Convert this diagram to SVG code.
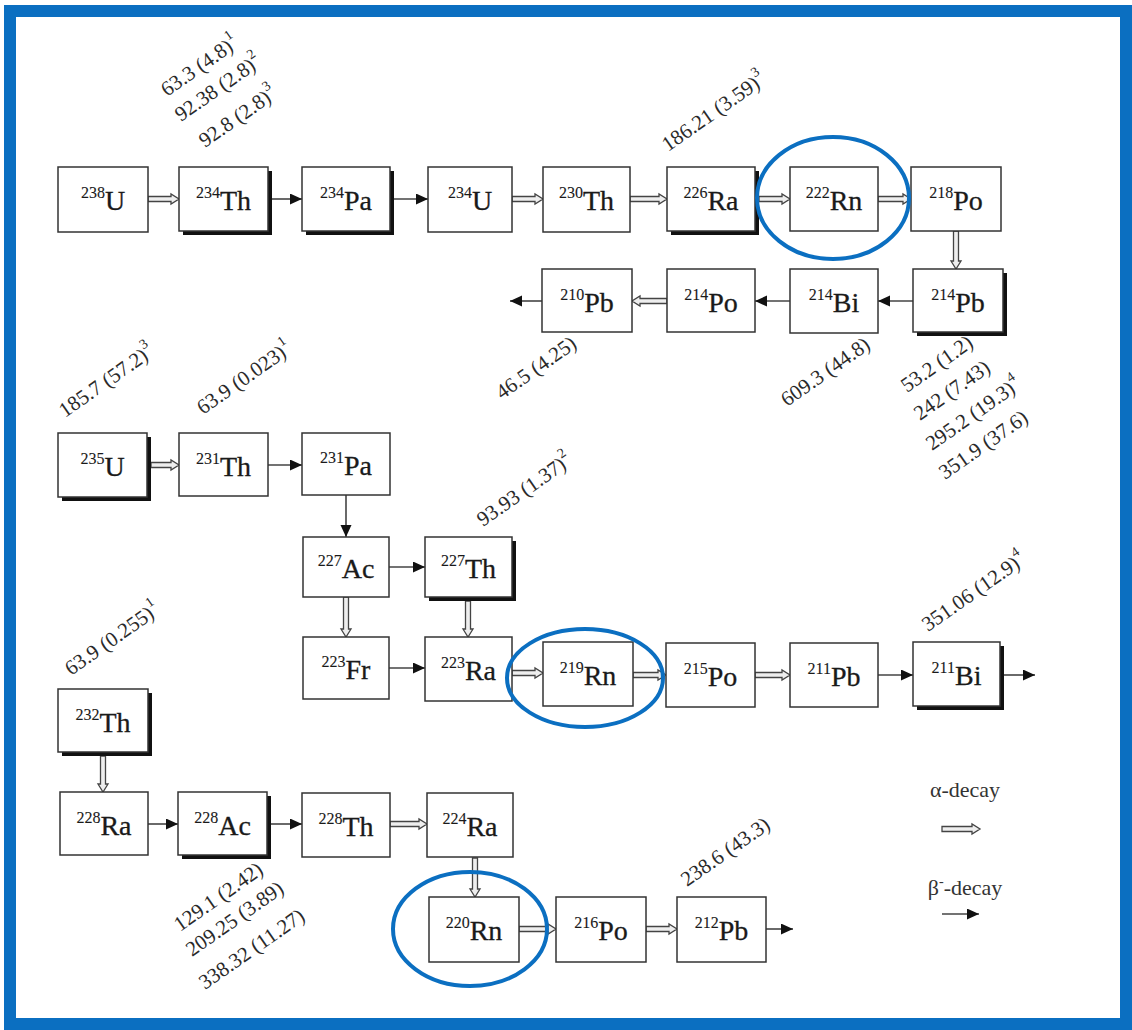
<svg xmlns="http://www.w3.org/2000/svg" width="1132" height="1030" viewBox="0 0 1132 1030">
<defs>
<style>
.box{fill:#fff;stroke:#333;stroke-width:1.5}
.sh{fill:#111}
.nt{font-family:"Liberation Serif",serif;font-size:28px;fill:#1a1a1a;stroke:#1a1a1a;stroke-width:0.3;text-anchor:middle}
.ns{font-size:16px;stroke-width:0.1}
.al{fill:#eee;stroke:#444;stroke-width:1.3}
.be{stroke:#444;stroke-width:1.6;fill:none;marker-end:url(#bh)}
.lbl{font-family:"Liberation Serif",serif;font-size:21px;fill:#2a2a2a}
.fn{font-size:14px}
.ring{fill:none;stroke:#0B6FC1;stroke-width:4}
.leg{font-family:"Liberation Serif",serif;font-size:22px;fill:#333;text-anchor:middle}
</style>
<marker id="bh" markerUnits="userSpaceOnUse" markerWidth="13" markerHeight="12" refX="12" refY="5.5" orient="auto">
<path d="M0,0 L12,5.5 L0,11 Z" fill="#111"/>
</marker>
</defs>
<rect width="1132" height="1030" fill="#fff"/>
<rect x="10" y="11" width="1116" height="1013" fill="none" stroke="#0B6FC1" stroke-width="12"/>

<g id="connectors">
<polygon class="al" points="148,196.5 171,196.5 171,194 179,199 171,204 171,201.5 148,201.5"/>
<polygon class="al" points="512,196.5 535,196.5 535,194 543,199 535,204 535,201.5 512,201.5"/>
<polygon class="al" points="630,196.5 659,196.5 659,194 667,199 659,204 659,201.5 630,201.5"/>
<polygon class="al" points="759,196.5 782,196.5 782,194 790,199 782,204 782,201.5 759,201.5"/>
<polygon class="al" points="878,196.5 903,196.5 903,194 911,199 903,204 903,201.5 878,201.5"/>
<polygon class="al" points="953.5,231 953.5,261 951,261 956,269 961,261 958.5,261 958.5,231"/>
<polygon class="al" points="667,298.5 640,298.5 640,296 632,301 640,306 640,303.5 667,303.5"/>
<polygon class="al" points="151,462.5 171,462.5 171,460 179,465 171,470 171,467.5 151,467.5"/>
<polygon class="al" points="343.5,597 343.5,629 341,629 346,637 351,629 348.5,629 348.5,597"/>
<polygon class="al" points="465.5,601 465.5,629 463,629 468,637 473,629 470.5,629 470.5,601"/>
<polygon class="al" points="512,670.5 535,670.5 535,668 543,673 535,678 535,675.5 512,675.5"/>
<polygon class="al" points="633,672.5 658,672.5 658,670 666,675 658,680 658,677.5 633,677.5"/>
<polygon class="al" points="755,672.5 782,672.5 782,670 790,675 782,680 782,677.5 755,677.5"/>
<polygon class="al" points="100.5,756 100.5,784 98,784 103,792 108,784 105.5,784 105.5,756"/>
<polygon class="al" points="390,821.5 419,821.5 419,819 427,824 419,829 419,826.5 390,826.5"/>
<polygon class="al" points="472.5,858 472.5,889 470,889 475,897 480,889 477.5,889 477.5,858"/>
<polygon class="al" points="519,926.5 548,926.5 548,924 556,929 548,934 548,931.5 519,931.5"/>
<polygon class="al" points="646,926.5 669,926.5 669,924 677,929 669,934 669,931.5 646,931.5"/>
<line class="be" x1="272" y1="199" x2="302" y2="199"/>
<line class="be" x1="394" y1="199" x2="428" y2="199"/>
<line class="be" x1="913" y1="301" x2="878" y2="301"/>
<line class="be" x1="790" y1="301" x2="755" y2="301"/>
<line class="be" x1="542" y1="301" x2="510" y2="301"/>
<line class="be" x1="268" y1="465" x2="302" y2="465"/>
<line class="be" x1="346" y1="495" x2="346" y2="537"/>
<line class="be" x1="389" y1="567" x2="425" y2="567"/>
<line class="be" x1="389" y1="668" x2="425" y2="668"/>
<line class="be" x1="878" y1="675" x2="913" y2="675"/>
<line class="be" x1="1004" y1="675" x2="1035" y2="675"/>
<line class="be" x1="148" y1="824" x2="178" y2="824"/>
<line class="be" x1="271" y1="824" x2="302" y2="824"/>
<line class="be" x1="766" y1="929" x2="793" y2="929"/>
</g>

<g id="n238U"><rect class="box" x="58" y="167" width="90" height="65"/><text class="nt" x="103" y="210"><tspan class="ns" dy="-12">238</tspan><tspan dy="12">U</tspan></text></g>
<g id="n234Th"><rect class="sh" x="183" y="171" width="89" height="64"/><rect class="box" x="179" y="167" width="89" height="64"/><text class="nt" x="223.5" y="210"><tspan class="ns" dy="-12">234</tspan><tspan dy="12">Th</tspan></text></g>
<g id="n234Pa"><rect class="sh" x="306" y="171" width="88" height="64"/><rect class="box" x="302" y="167" width="88" height="64"/><text class="nt" x="346" y="210"><tspan class="ns" dy="-12">234</tspan><tspan dy="12">Pa</tspan></text></g>
<g id="n234U"><rect class="box" x="428" y="167" width="84" height="65"/><text class="nt" x="470" y="210"><tspan class="ns" dy="-12">234</tspan><tspan dy="12">U</tspan></text></g>
<g id="n230Th"><rect class="box" x="543" y="167" width="87" height="65"/><text class="nt" x="586.5" y="210"><tspan class="ns" dy="-12">230</tspan><tspan dy="12">Th</tspan></text></g>
<g id="n226Ra"><rect class="sh" x="671" y="171" width="88" height="64"/><rect class="box" x="667" y="167" width="88" height="64"/><text class="nt" x="711" y="210"><tspan class="ns" dy="-12">226</tspan><tspan dy="12">Ra</tspan></text></g>
<g id="n222Rn"><rect class="box" x="790" y="167" width="88" height="64"/><text class="nt" x="834" y="210"><tspan class="ns" dy="-12">222</tspan><tspan dy="12">Rn</tspan></text></g>
<g id="n218Po"><rect class="box" x="911" y="167" width="90" height="64"/><text class="nt" x="956" y="210"><tspan class="ns" dy="-12">218</tspan><tspan dy="12">Po</tspan></text></g>
<g id="n214Pb"><rect class="sh" x="917" y="273" width="90" height="63"/><rect class="box" x="913" y="269" width="90" height="63"/><text class="nt" x="958" y="312"><tspan class="ns" dy="-12">214</tspan><tspan dy="12">Pb</tspan></text></g>
<g id="n214Bi"><rect class="box" x="790" y="269" width="88" height="64"/><text class="nt" x="834" y="312"><tspan class="ns" dy="-12">214</tspan><tspan dy="12">Bi</tspan></text></g>
<g id="n214Po"><rect class="box" x="667" y="269" width="88" height="63"/><text class="nt" x="711" y="312"><tspan class="ns" dy="-12">214</tspan><tspan dy="12">Po</tspan></text></g>
<g id="n210Pb"><rect class="box" x="542" y="269" width="90" height="63"/><text class="nt" x="587" y="312"><tspan class="ns" dy="-12">210</tspan><tspan dy="12">Pb</tspan></text></g>
<g id="n235U"><rect class="sh" x="62" y="437" width="89" height="64"/><rect class="box" x="58" y="433" width="89" height="64"/><text class="nt" x="102.5" y="476"><tspan class="ns" dy="-12">235</tspan><tspan dy="12">U</tspan></text></g>
<g id="n231Th"><rect class="box" x="179" y="433" width="89" height="63"/><text class="nt" x="223.5" y="476"><tspan class="ns" dy="-12">231</tspan><tspan dy="12">Th</tspan></text></g>
<g id="n231Pa"><rect class="box" x="302" y="433" width="88" height="62"/><text class="nt" x="346" y="475"><tspan class="ns" dy="-12">231</tspan><tspan dy="12">Pa</tspan></text></g>
<g id="n227Ac"><rect class="box" x="303" y="537" width="86" height="60"/><text class="nt" x="346" y="578"><tspan class="ns" dy="-12">227</tspan><tspan dy="12">Ac</tspan></text></g>
<g id="n227Th"><rect class="sh" x="429" y="541" width="87" height="60"/><rect class="box" x="425" y="537" width="87" height="60"/><text class="nt" x="468.5" y="578"><tspan class="ns" dy="-12">227</tspan><tspan dy="12">Th</tspan></text></g>
<g id="n223Fr"><rect class="box" x="303" y="637" width="86" height="62"/><text class="nt" x="346" y="679"><tspan class="ns" dy="-12">223</tspan><tspan dy="12">Fr</tspan></text></g>
<g id="n223Ra"><rect class="box" x="425" y="637" width="87" height="64"/><text class="nt" x="468.5" y="680"><tspan class="ns" dy="-12">223</tspan><tspan dy="12">Ra</tspan></text></g>
<g id="n219Rn"><rect class="box" x="543" y="642" width="90" height="64"/><text class="nt" x="588" y="685"><tspan class="ns" dy="-12">219</tspan><tspan dy="12">Rn</tspan></text></g>
<g id="n215Po"><rect class="box" x="666" y="643" width="89" height="64"/><text class="nt" x="710.5" y="686"><tspan class="ns" dy="-12">215</tspan><tspan dy="12">Po</tspan></text></g>
<g id="n211Pb"><rect class="box" x="790" y="643" width="88" height="64"/><text class="nt" x="834" y="686"><tspan class="ns" dy="-12">211</tspan><tspan dy="12">Pb</tspan></text></g>
<g id="n211Bi"><rect class="sh" x="917" y="646" width="87" height="64"/><rect class="box" x="913" y="642" width="87" height="64"/><text class="nt" x="956.5" y="685"><tspan class="ns" dy="-12">211</tspan><tspan dy="12">Bi</tspan></text></g>
<g id="n232Th"><rect class="sh" x="62" y="693" width="90" height="63"/><rect class="box" x="58" y="689" width="90" height="63"/><text class="nt" x="103" y="732"><tspan class="ns" dy="-12">232</tspan><tspan dy="12">Th</tspan></text></g>
<g id="n228Ra"><rect class="box" x="60" y="792" width="88" height="63"/><text class="nt" x="104" y="835"><tspan class="ns" dy="-12">228</tspan><tspan dy="12">Ra</tspan></text></g>
<g id="n228Ac"><rect class="sh" x="182" y="796" width="89" height="63"/><rect class="box" x="178" y="792" width="89" height="63"/><text class="nt" x="222.5" y="835"><tspan class="ns" dy="-12">228</tspan><tspan dy="12">Ac</tspan></text></g>
<g id="n228Th"><rect class="box" x="302" y="793" width="88" height="64"/><text class="nt" x="346" y="836"><tspan class="ns" dy="-12">228</tspan><tspan dy="12">Th</tspan></text></g>
<g id="n224Ra"><rect class="box" x="427" y="793" width="86" height="64"/><text class="nt" x="470" y="836"><tspan class="ns" dy="-12">224</tspan><tspan dy="12">Ra</tspan></text></g>
<g id="n220Rn"><rect class="box" x="429" y="897" width="90" height="65"/><text class="nt" x="474" y="940"><tspan class="ns" dy="-12">220</tspan><tspan dy="12">Rn</tspan></text></g>
<g id="n216Po"><rect class="box" x="556" y="897" width="90" height="65"/><text class="nt" x="601" y="940"><tspan class="ns" dy="-12">216</tspan><tspan dy="12">Po</tspan></text></g>
<g id="n212Pb"><rect class="box" x="677" y="897" width="89" height="65"/><text class="nt" x="721.5" y="940"><tspan class="ns" dy="-12">212</tspan><tspan dy="12">Pb</tspan></text></g>

<g id="labels" class="lbl">
<text transform="translate(167,97) rotate(-35)">63.3 (4.8)<tspan class="fn" dy="-11">1</tspan></text>
<text transform="translate(181,122) rotate(-35)">92.38 (2.8)<tspan class="fn" dy="-11">2</tspan></text>
<text transform="translate(205,148) rotate(-35)">92.8 (2.8)<tspan class="fn" dy="-11">3</tspan></text>
<text transform="translate(668,152) rotate(-35)">186.21 (3.59)<tspan class="fn" dy="-11">3</tspan></text>
<text transform="translate(502,400) rotate(-35)">46.5 (4.25)</text>
<text transform="translate(787,407) rotate(-35)">609.3 (44.8)</text>
<text transform="translate(907,393) rotate(-35)">53.2 (1.2)</text>
<text transform="translate(920,421) rotate(-35)">242 (7.43)</text>
<text transform="translate(932,451) rotate(-35)">295.2 (19.3)<tspan class="fn" dy="-11">4</tspan></text>
<text transform="translate(945,480) rotate(-35)">351.9 (37.6)</text>
<text transform="translate(65,418) rotate(-35)">185.7 (57.2)<tspan class="fn" dy="-11">3</tspan></text>
<text transform="translate(203,415) rotate(-35)">63.9 (0.023)<tspan class="fn" dy="-11">1</tspan></text>
<text transform="translate(483,527) rotate(-35)">93.93 (1.37)<tspan class="fn" dy="-11">2</tspan></text>
<text transform="translate(928,632) rotate(-35)">351.06 (12.9)<tspan class="fn" dy="-11">4</tspan></text>
<text transform="translate(71,676) rotate(-35)">63.9 (0.255)<tspan class="fn" dy="-11">1</tspan></text>
<text transform="translate(180,932) rotate(-35)">129.1 (2.42)</text>
<text transform="translate(192,957) rotate(-35)">209.25 (3.89)</text>
<text transform="translate(205,990) rotate(-35)">338.32 (11.27)</text>
<text transform="translate(687,887) rotate(-35)">238.6 (43.3)</text>
</g>

<g id="highlights">
<ellipse class="ring" cx="833" cy="198" rx="76" ry="61"/>
<ellipse class="ring" cx="585" cy="678" rx="78" ry="49"/>
<ellipse class="ring" cx="470" cy="929" rx="77" ry="57"/>
</g>

<g id="legend">
<text class="leg" x="965" y="797">α-decay</text>
<polygon class="al" points="942,826.5 972,826.5 972,824 980,829 972,834 972,831.5 942,831.5"/>
<text class="leg" x="965" y="895">β<tspan font-size="14" dy="-9">-</tspan><tspan dy="9">-decay</tspan></text>
<line class="be" x1="942" y1="914" x2="979" y2="914"/>
</g>
</svg>
